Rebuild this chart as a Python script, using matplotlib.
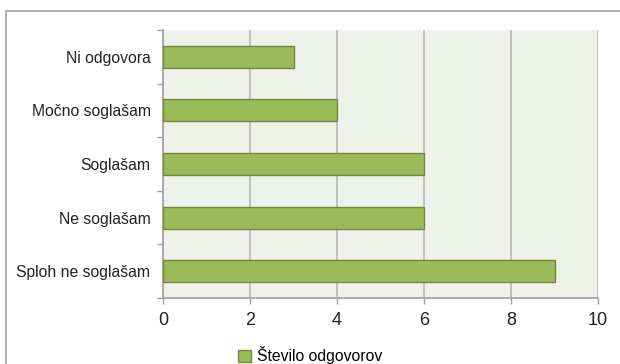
import matplotlib.pyplot as plt
from matplotlib.patches import Rectangle

# answers, top to bottom as drawn
categories = ['Ni odgovora', 'Močno soglašam', 'Soglašam', 'Ne soglašam', 'Sploh ne soglašam']
counts = [3, 4, 6, 6, 9]
x_ticks = [0, 2, 4, 6, 8, 10]
series_name = 'Število odgovorov'

plt.rcParams['font.family'] = ['Liberation Sans', 'DejaVu Sans']

fig = plt.figure(figsize=(6.2, 3.64), dpi=100)
ax = fig.add_axes([163 / 620, 1 - 298 / 364, 435 / 620, 268 / 364])
ax.set_facecolor('#eff2ea')

# outer chart frame (cut off at right and bottom)
fig.patches.append(Rectangle((6 / 620, -0.2), 1.2, 1.2 - 11 / 364,
                             transform=fig.transFigure, fill=False,
                             edgecolor='#b3b3b3', linewidth=1.5))

pos = list(range(len(categories)))[::-1]
ax.barh(pos, counts, height=0.41, color='#9bbb59', edgecolor='#71893f',
        linewidth=1, zorder=3, label=series_name)

ax.set_xlim(0, 10)
ax.set_ylim(-0.5, len(categories) - 0.5)
ax.set_xticks(x_ticks)
ax.set_xticklabels([str(v) for v in x_ticks], fontsize=13, color='#222222')
ax.set_yticks(pos)
ax.set_yticklabels(categories, fontsize=11.3, color='#222222')
ax.set_yticks([p - 0.5 for p in range(len(categories) + 1)], minor=True)
ax.tick_params(axis='y', which='major', length=0, pad=9)
ax.tick_params(axis='y', which='minor', length=4, color='#a0a0a0', width=1)
ax.tick_params(axis='x', length=4, color='#a0a0a0', width=1, pad=6)

ax.grid(axis='x', color='#b8b8b8', linewidth=1.2, zorder=1)
for s in ['top', 'right']:
    ax.spines[s].set_visible(False)
ax.spines['left'].set_color('#a0a0a0')
ax.spines['bottom'].set_color('#a0a0a0')
ax.spines['left'].set_linewidth(1.2)
ax.spines['bottom'].set_linewidth(1.2)

fig.legend(loc='center', bbox_to_anchor=(0.5, 1 - 355 / 364), frameon=False,
           fontsize=11.3, handlelength=0.8, handleheight=0.8, handletextpad=0.4)

fig.savefig('out.png', dpi=100)
